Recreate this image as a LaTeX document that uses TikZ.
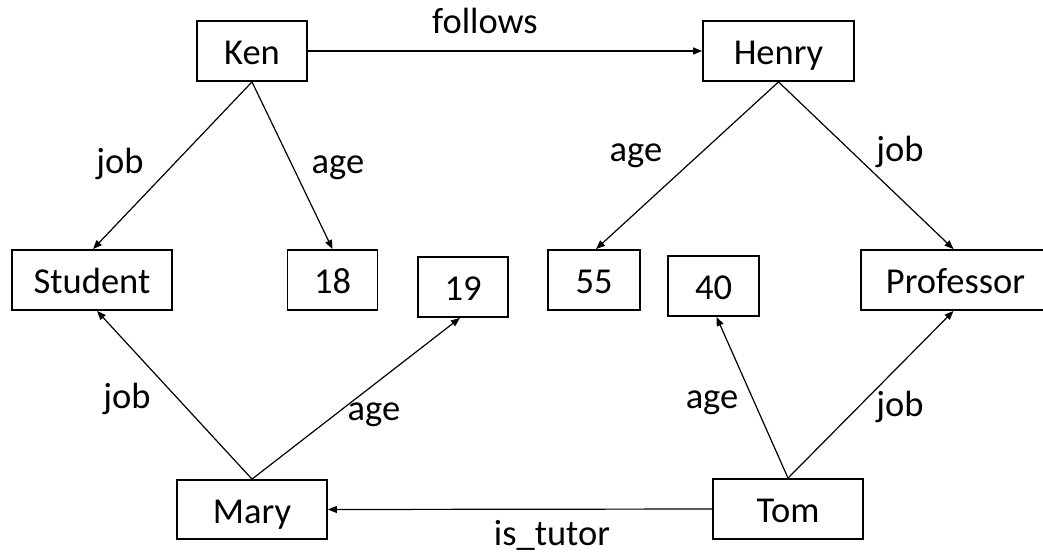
\documentclass[tikz,border=0pt]{standalone}
\usepackage{fontspec}
\setmainfont{Carlito}
\usetikzlibrary{arrows.meta}
\begin{document}
\begin{tikzpicture}[x=1pt,y=-1pt,
  font=\fontsize{36.5}{42}\selectfont,
  box/.style={draw=black,line width=1.8pt,inner sep=0pt,minimum height=60pt,
    text height=27pt,text depth=0pt},
  conn/.style={line width=1.2pt,-{Triangle[length=9pt,width=7pt]}},
  lab/.style={anchor=base,inner sep=0pt}]
\useasboundingbox (0,0) rectangle (1043,555);
\fill[white] (0,0) rectangle (1043,555);
% nodes
\node[box,minimum width=110pt] (ken) at (252,51) {Ken};
\node[box,minimum width=151pt] (henry) at (778.5,51) {Henry};
\node[box,minimum width=160pt] (student) at (92,280) {Student};
\node[box,minimum width=90pt] (n18) at (332.5,280) {18};
\node[box,minimum width=90pt] (n19) at (463,287) {19};
\node[box,minimum width=92pt] (n55) at (594,280) {55};
\node[box,minimum width=91pt] (n40) at (713.5,286) {40};
\node[box,minimum width=189pt] (prof) at (955.5,280) {Professor};
\node[box,minimum width=150pt,minimum height=59pt] (mary) at (252,509.5) {Mary};
\node[box,minimum width=150pt,minimum height=60pt] (tom) at (788,509) {Tom};
% connectors
\draw[conn] (ken.east) -- (henry.west);
\draw[conn] (ken.south) -- ([xshift=1pt]student.north);
\draw[conn] (ken.south) -- (n18.north);
\draw[conn] (henry.south) -- ([xshift=2pt]n55.north);
\draw[conn] (henry.south) -- ([xshift=-2pt]prof.north);
\draw[conn] (mary.north) -- ([xshift=5pt]student.south);
\draw[conn] (mary.north) -- ([xshift=-3pt]n19.south);
\draw[conn] (tom.north) -- ([xshift=3pt]n40.south);
\draw[conn] (tom.north) -- ([xshift=-2pt]prof.south);
\draw[conn] (tom.west) -- (mary.east);
% labels
\node[lab] (lfollows) at (485,33) {follows};
\node[lab] (l1) at (120,173) {job};
\node[lab] (l2) at (338,173) {age};
\node[lab] (l3) at (636,161) {age};
\node[lab] (l4) at (900,161) {job};
\node[lab] (l5) at (127,408) {job};
\node[lab] (l6) at (374,420) {age};
\node[lab] (l7) at (712,408) {age};
\node[lab] (l8) at (900,416) {job};
\node[lab] (ltutor) at (552,545) {is\_tutor};
\end{tikzpicture}
\end{document}
